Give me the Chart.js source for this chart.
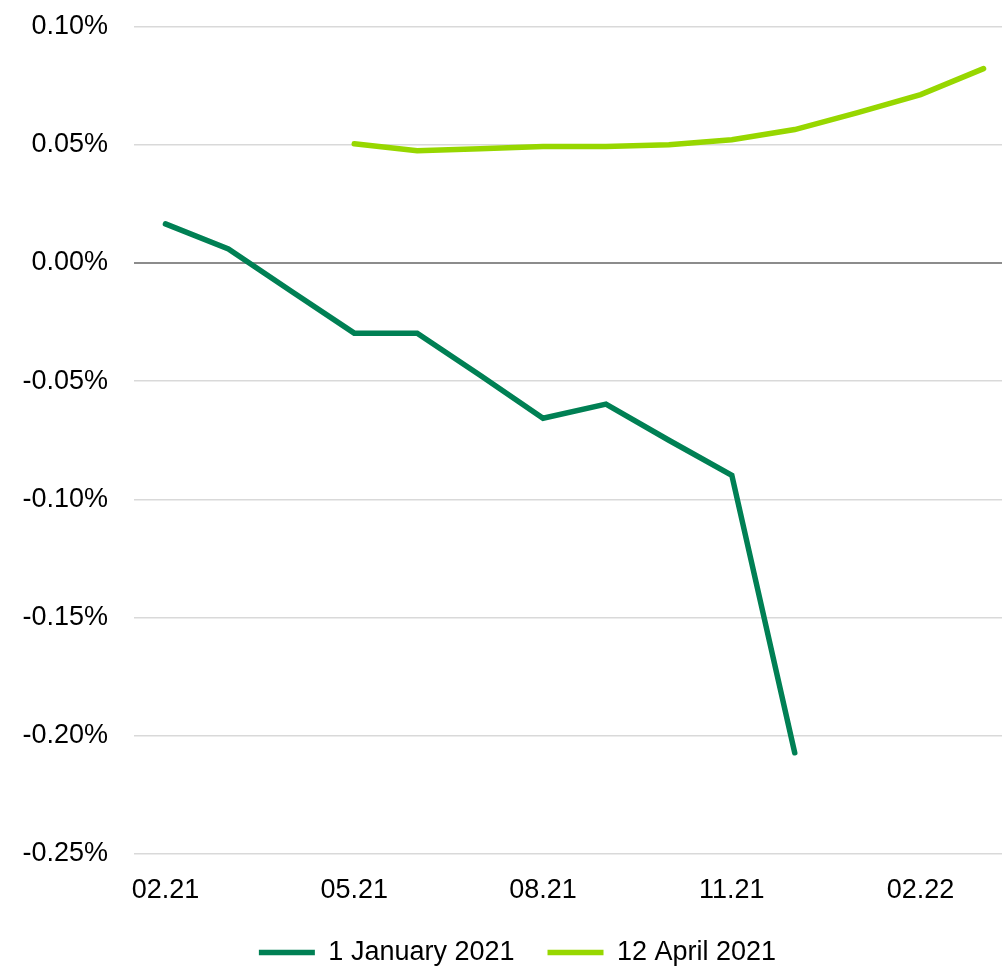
<!DOCTYPE html>
<html>
<head>
<meta charset="utf-8">
<script src="https://cdn.jsdelivr.net/npm/chart.js@4/dist/chart.umd.min.js"></script>
<style>
  html, body { margin: 0; padding: 0; background: #fff; overflow: hidden; }
  #wrap { width: 1016px; height: 976px; }
</style>
</head>
<body>
<div id="wrap"><canvas id="grafico" width="1016" height="976"></canvas></div>
<script>
const meses = ['02.21', '03.21', '04.21', '05.21', '06.21', '07.21', '08.21', '09.21', '10.21', '11.21', '12.21', '01.22', '02.22', '03.22'];
const janeiro = [0.0165, 0.0059, -0.012, -0.0297, -0.0297, -0.0475, -0.0657, -0.0597, -0.075, -0.0898, -0.2072, null, null, null];
const abril = [null, null, null, 0.0504, 0.0475, 0.0483, 0.0492, 0.0492, 0.05, 0.0521, 0.0564, 0.0636, 0.0712, 0.0822];
const yTicks = [-0.25, -0.2, -0.15, -0.1, -0.05, 0, 0.05, 0.1];

const verde = '#008054';
const verdeClaro = '#97d700';
const fonte = { family: 'Liberation Sans, Arial, sans-serif', size: 27 };

// empurra a legenda um pouco para a direita, como no original
const moverLegenda = {
  id: 'moverLegenda',
  afterLayout: (chart) => {
    if (chart.legend) {
      chart.legend.left += 10;
      chart.legend.right += 10;
    }
  },
};

const ctx = document.getElementById('grafico').getContext('2d');

new Chart(ctx, {
  type: 'line',
  data: {
    labels: meses,
    datasets: [
      {
        label: '1 January 2021',
        data: janeiro,
        borderColor: verde,
        backgroundColor: verde,
        borderWidth: 5.5,
        borderCapStyle: 'round',
        borderJoinStyle: 'miter',
        pointRadius: 0,
        tension: 0,
      },
      {
        label: '12 April 2021',
        data: abril,
        borderColor: verdeClaro,
        backgroundColor: verdeClaro,
        borderWidth: 5.5,
        borderCapStyle: 'round',
        borderJoinStyle: 'miter',
        pointRadius: 0,
        tension: 0,
      },
    ],
  },
  plugins: [moverLegenda],
  options: {
    responsive: false,
    animation: false,
    layout: { padding: { top: 26.5, right: 1, left: 0, bottom: 0 } },
    plugins: {
      tooltip: { enabled: false },
      legend: {
        position: 'bottom',
        labels: {
          usePointStyle: true,
          pointStyle: 'line',
          pointStyleWidth: 56,
          boxHeight: 5,
          padding: 33,
          color: '#000',
          font: fonte,
        },
      },
    },
    scales: {
      x: {
        type: 'category',
        offset: true,
        grid: { display: false, drawTicks: false },
        border: { display: false },
        afterFit: (scale) => {
          scale.height = 52;
        },
        ticks: {
          autoSkip: false,
          maxRotation: 0,
          padding: 20,
          color: '#000',
          font: fonte,
          callback: (value, index) => (index % 3 === 0 ? meses[index] : ''),
        },
      },
      y: {
        min: -0.25,
        max: 0.1,
        afterBuildTicks: (scale) => {
          scale.ticks = yTicks.map((v) => ({ value: v }));
        },
        afterFit: (scale) => {
          scale.width = 134;
          scale.paddingTop = 0;
          scale.paddingBottom = 0;
        },
        grid: {
          drawTicks: false,
          color: (c) => (c.tick && Math.abs(c.tick.value) < 1e-9 ? '#8c8c8c' : '#d9d9d9'),
          lineWidth: (c) => (c.tick && Math.abs(c.tick.value) < 1e-9 ? 2 : 1.5),
        },
        border: { display: false },
        ticks: {
          padding: 26,
          color: '#000',
          font: fonte,
          callback: (value) => value.toFixed(2) + '%',
        },
      },
    },
  },
});
</script>
</body>
</html>
